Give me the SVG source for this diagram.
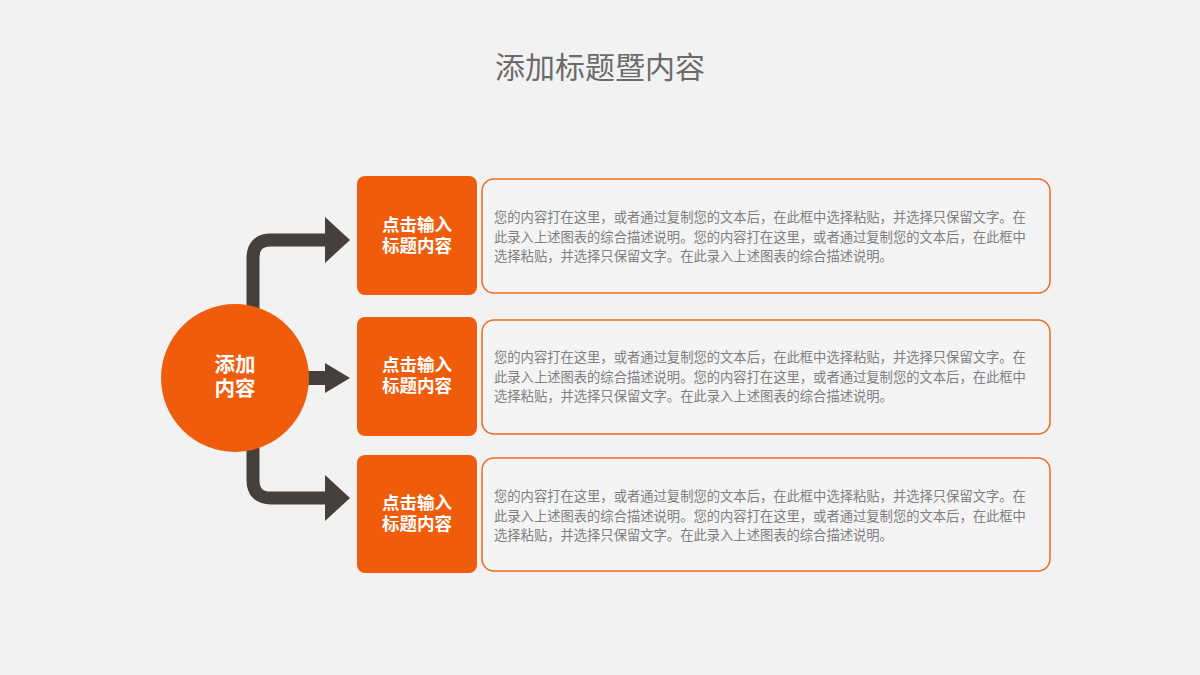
<svg xmlns="http://www.w3.org/2000/svg" width="1200" height="675" viewBox="0 0 1200 675">
<style>
.t{font-family:"Noto Sans CJK SC","Liberation Sans",sans-serif}
.ob{fill:#ef5d0c}
.tb{fill:#f4f4f4;stroke:#ef6a1e;stroke-width:1.5}
.bt{fill:#fff;font-size:17.5px;font-weight:bold;text-anchor:middle}
.dt{fill:#7f7f7f;font-size:13.3px}
.ar{fill:none;stroke:#45403c;stroke-width:13}
.ah{fill:#45403c}
</style>
<rect width="1200" height="675" fill="#f2f2f2"/>
<text class="t" x="600" y="78" font-size="30" fill="#6b6b6b" text-anchor="middle">添加标题暨内容</text>
<g id="connectors">
<path class="ar" d="M253 310 V258 Q253 240 271 240 H328"/>
<path class="ah" d="M325 217 L350 240 L325 263 Z"/>
<rect class="ah" x="300" y="371" width="28" height="14"/>
<path class="ah" d="M325 363 L350 378 L325 393 Z"/>
<path class="ar" d="M253 445 V480 Q253 498 271 498 H328"/>
<path class="ah" d="M325 475 L350 498 L325 521 Z"/>
</g>
<g id="center">
<circle class="ob" cx="235" cy="378" r="74"/>
<text class="t bt" x="235" y="372" style="font-size:20.5px">添加</text>
<text class="t bt" x="235" y="396" style="font-size:20.5px">内容</text>
</g>
<g id="n1">
<rect class="ob" x="357" y="176" width="120" height="119" rx="8"/>
<text class="t bt" x="417" y="231">点击输入</text><text class="t bt" x="417" y="252">标题内容</text>
<rect class="tb" x="482" y="179" width="568" height="114" rx="12"/>
<text class="t dt" x="494" y="222">您的内容打在这里，或者通过复制您的文本后，在此框中选择粘贴，并选择只保留文字。在</text>
<text class="t dt" x="494" y="242">此录入上述图表的综合描述说明。您的内容打在这里，或者通过复制您的文本后，在此框中</text>
<text class="t dt" x="494" y="261">选择粘贴，并选择只保留文字。在此录入上述图表的综合描述说明。</text>
</g>
<g id="n2">
<rect class="ob" x="357" y="317" width="120" height="119" rx="8"/>
<text class="t bt" x="417" y="371">点击输入</text><text class="t bt" x="417" y="392">标题内容</text>
<rect class="tb" x="482" y="320" width="568" height="114" rx="12"/>
<text class="t dt" x="494" y="362">您的内容打在这里，或者通过复制您的文本后，在此框中选择粘贴，并选择只保留文字。在</text>
<text class="t dt" x="494" y="382">此录入上述图表的综合描述说明。您的内容打在这里，或者通过复制您的文本后，在此框中</text>
<text class="t dt" x="494" y="401">选择粘贴，并选择只保留文字。在此录入上述图表的综合描述说明。</text>
</g>
<g id="n3">
<rect class="ob" x="357" y="455" width="120" height="118" rx="8"/>
<text class="t bt" x="417" y="509">点击输入</text><text class="t bt" x="417" y="530">标题内容</text>
<rect class="tb" x="482" y="458" width="568" height="113" rx="12"/>
<text class="t dt" x="494" y="501">您的内容打在这里，或者通过复制您的文本后，在此框中选择粘贴，并选择只保留文字。在</text>
<text class="t dt" x="494" y="521">此录入上述图表的综合描述说明。您的内容打在这里，或者通过复制您的文本后，在此框中</text>
<text class="t dt" x="494" y="540">选择粘贴，并选择只保留文字。在此录入上述图表的综合描述说明。</text>
</g>
</svg>
